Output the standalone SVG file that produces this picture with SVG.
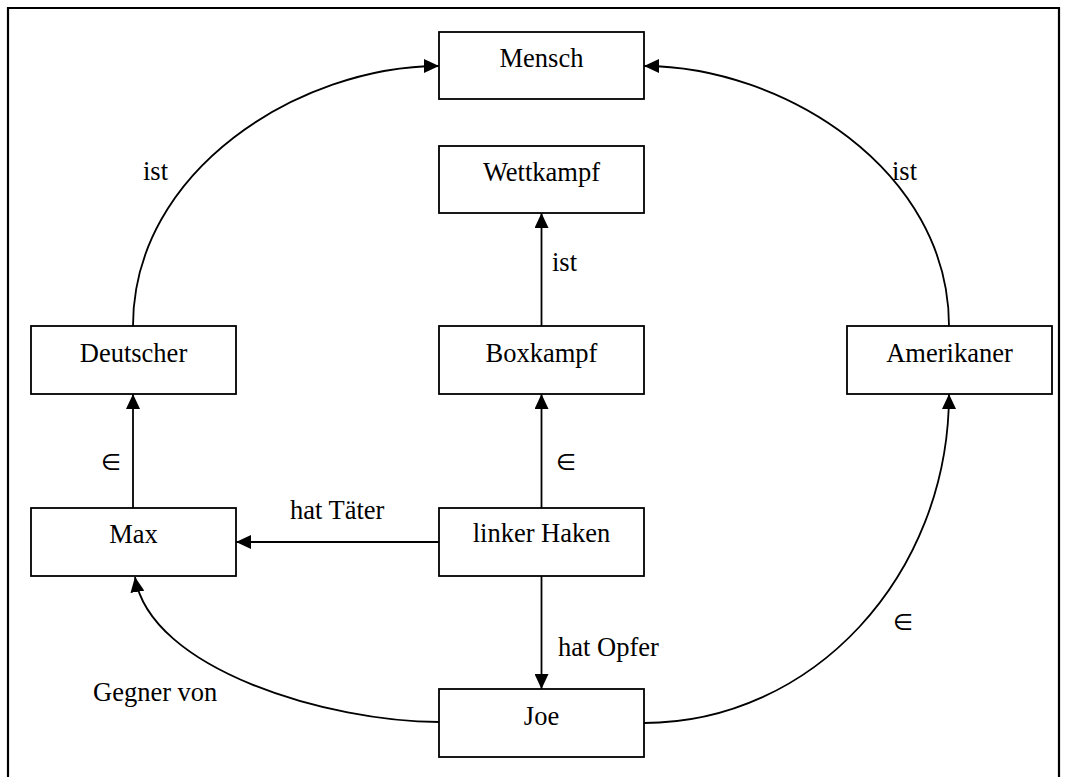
<svg xmlns="http://www.w3.org/2000/svg" width="1066" height="777" viewBox="0 0 1066 777">
  <style>
    .box { fill: #ffffff; stroke: #000000; stroke-width: 1.8; }
    .lbl { font-family: "Liberation Serif", "Times New Roman", serif; font-size: 26.5px; fill: #000000; }
    .node-text { text-anchor: middle; }
    .sym { font-family: "DejaVu Sans", "Liberation Serif", sans-serif; font-size: 23px; fill: #000000; }
    .edge { fill: none; stroke: #000000; stroke-width: 1.8; marker-end: url(#arrow); }
    .frame { fill: none; stroke: #000000; stroke-width: 2.2; }
  </style>
  <defs>
    <marker id="arrow" markerUnits="userSpaceOnUse" markerWidth="16" markerHeight="14" refX="15" refY="7" orient="auto">
      <path d="M0,0 L15,7 L0,14 z" fill="#000000"/>
    </marker>
  </defs>

  <rect width="1066" height="777" fill="#ffffff"/>
  <!-- outer frame -->
  <path class="frame" d="M8,777 V8 H1059 V777"/>

  <!-- connectors -->
  <g id="connectors">
    <path class="edge" d="M133,326 C133,170 300,66 439,66"/>
    <path class="edge" d="M949,326 C949,170 783,66 644,66"/>
    <path class="edge" d="M541.5,326 V213"/>
    <path class="edge" d="M133,508 V394"/>
    <path class="edge" d="M541.5,508 V394"/>
    <path class="edge" d="M439,542 H236"/>
    <path class="edge" d="M541.5,576 V689"/>
    <path class="edge" d="M439,722 C330,722 150,670 135,577"/>
    <path class="edge" d="M644,723 C812,723 949,576 949,394"/>
  </g>

  <!-- connector labels -->
  <g id="edge-labels">
    <text class="lbl" x="143" y="180">ist</text>
    <text class="lbl" x="892" y="180">ist</text>
    <text class="lbl" x="552" y="271">ist</text>
    <text class="lbl" x="290" y="519">hat Täter</text>
    <text class="lbl" x="558" y="656">hat Opfer</text>
    <text class="lbl" x="93" y="701">Gegner von</text>
    <text class="sym" x="101" y="470">∈</text>
    <text class="sym" x="556" y="470">∈</text>
    <text class="sym" x="893" y="630">∈</text>
  </g>

  <!-- nodes -->
  <g id="mensch">
    <rect class="box" x="439" y="32" width="205" height="67"/>
    <text class="lbl node-text" x="541.5" y="67">Mensch</text>
  </g>
  <g id="wettkampf">
    <rect class="box" x="439" y="146" width="205" height="67"/>
    <text class="lbl node-text" x="541.5" y="181">Wettkampf</text>
  </g>
  <g id="deutscher">
    <rect class="box" x="31" y="326" width="205" height="68"/>
    <text class="lbl node-text" x="133.5" y="362">Deutscher</text>
  </g>
  <g id="boxkampf">
    <rect class="box" x="439" y="326" width="205" height="68"/>
    <text class="lbl node-text" x="541.5" y="362">Boxkampf</text>
  </g>
  <g id="amerikaner">
    <rect class="box" x="847" y="326" width="205" height="68"/>
    <text class="lbl node-text" x="949.5" y="362">Amerikaner</text>
  </g>
  <g id="max">
    <rect class="box" x="31" y="508" width="205" height="68"/>
    <text class="lbl node-text" x="133.5" y="543">Max</text>
  </g>
  <g id="linker-haken">
    <rect class="box" x="439" y="508" width="205" height="68"/>
    <text class="lbl node-text" x="541.5" y="542">linker Haken</text>
  </g>
  <g id="joe">
    <rect class="box" x="439" y="689" width="205" height="68"/>
    <text class="lbl node-text" x="541.5" y="725">Joe</text>
  </g>
</svg>
